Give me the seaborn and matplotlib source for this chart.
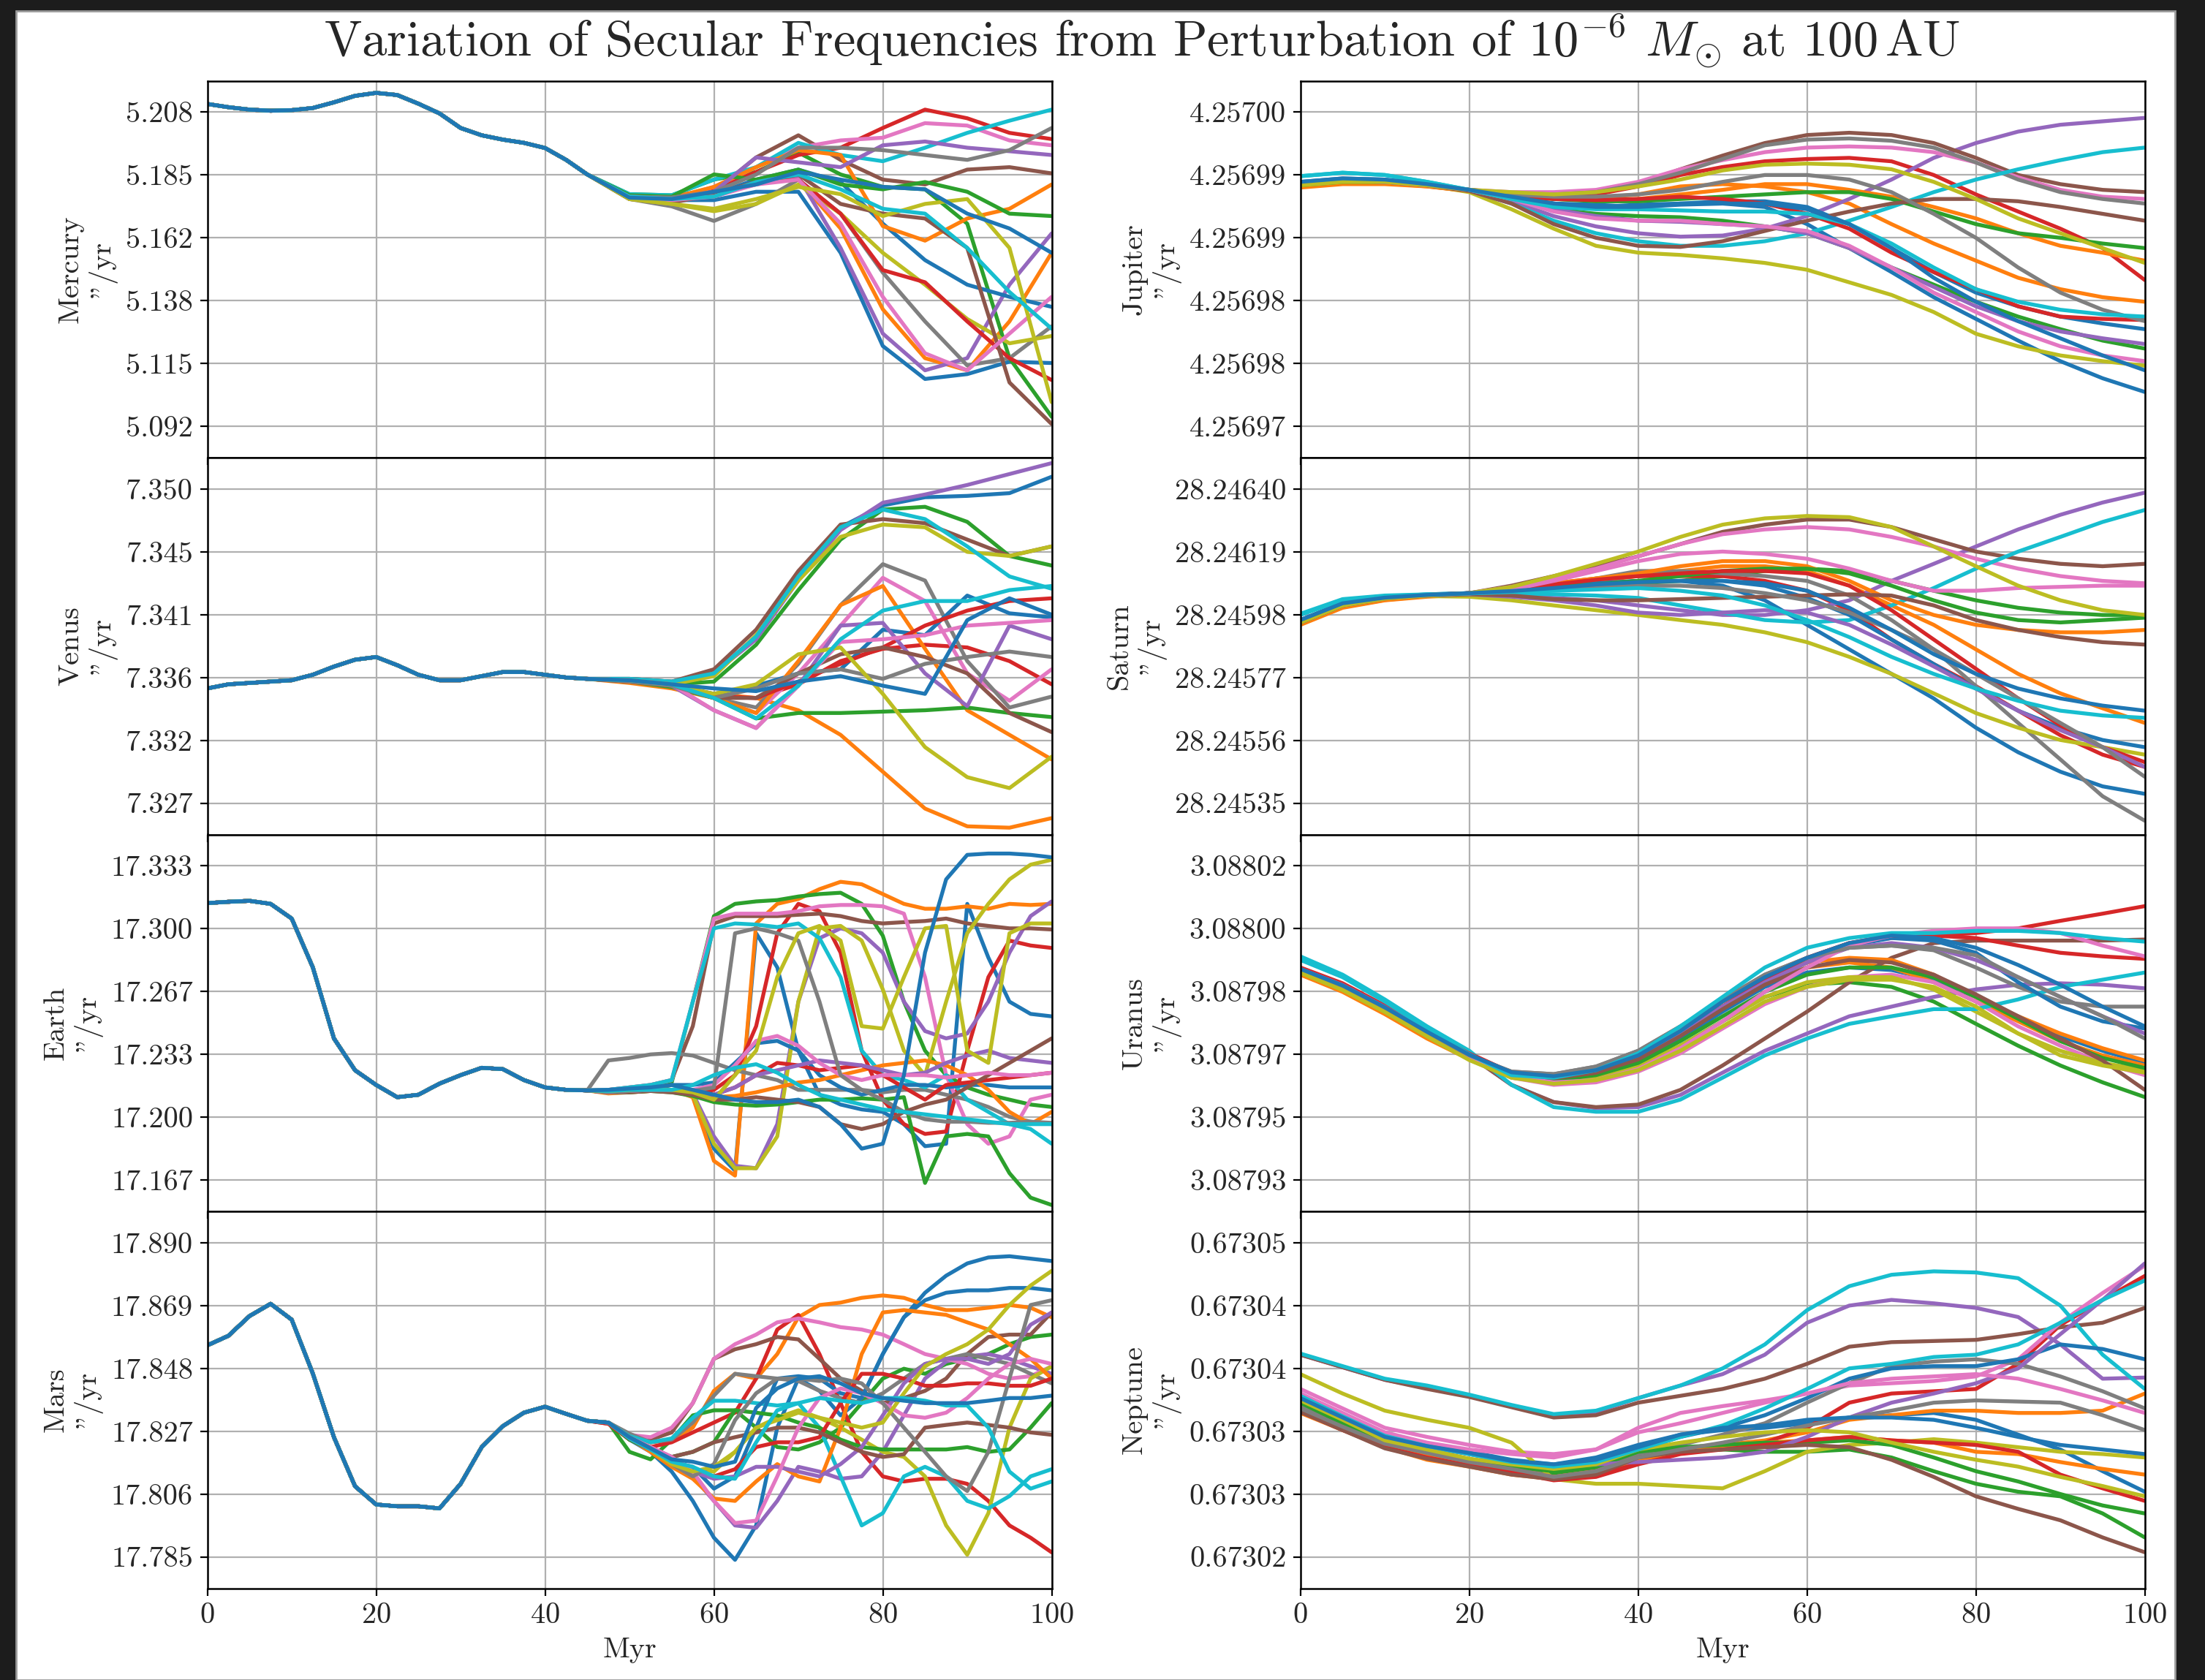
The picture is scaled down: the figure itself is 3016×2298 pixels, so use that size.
import numpy as np
import pandas as pd
import seaborn as sns
import matplotlib.pyplot as plt
from matplotlib.patches import Rectangle

sns.set_style("white")
plt.rcParams['font.family'] = ['cmr10', 'DejaVu Serif']
plt.rcParams['mathtext.fontset'] = 'cm'
plt.rcParams['axes.formatter.use_mathtext'] = True
plt.rcParams['axes.unicode_minus'] = False

TITLE = r"Variation of Secular Frequencies from Perturbation of $10^{-6}$ $M_{\odot}$ at $100\,\mathrm{AU}$"
planets_left = ["Mercury", "Venus", "Earth", "Mars"]
planets_right = ["Jupiter", "Saturn", "Uranus", "Neptune"]
unit_label = '"/yr'

# ---------------- time samples (Myr) ----------------
trunk_x = [0, 2.5, 5, 7.5, 10, 12.5, 15, 17.5, 20, 22.5, 25, 27.5, 30, 32.5, 35, 37.5, 40, 42.5, 45]
tail5_x = [50, 55, 60, 65, 70, 75, 80, 85, 90, 95, 100]
tail25_x = [47.5, 50, 52.5, 55, 57.5, 60, 62.5, 65, 67.5, 70, 72.5, 75, 77.5, 80, 82.5, 85, 87.5, 90, 92.5, 95, 97.5, 100]
full_x = [0, 5, 10, 15, 20, 25, 30, 35, 40, 45, 50, 55, 60, 65, 70, 75, 80, 85, 90, 95, 100]

# ---------------- Mercury ("/yr) ----------------
mercury_ticks = [5.092, 5.11525, 5.1385, 5.16175, 5.185, 5.20825]
mercury_labels = ["5.092", "5.115", "5.138", "5.162", "5.185", "5.208"]
mercury_trunk = [5.2113, 5.2101, 5.2092, 5.2088, 5.2090, 5.2098, 5.2119, 5.2143, 5.2154, 5.2146,
                 5.2114, 5.2078, 5.2024, 5.1997, 5.1981, 5.1969, 5.1950, 5.1906, 5.1852]
mercury_tails = [
    [5.1761, 5.1757, 5.1757, 5.1788, 5.1788, 5.1562, 5.1217, 5.1095, 5.1113, 5.1159, 5.1154],
    [5.1770, 5.1766, 5.1770, 5.1824, 5.1833, 5.1652, 5.1353, 5.1172, 5.1127, 5.1308, 5.1562],
    [5.1779, 5.1775, 5.1833, 5.1861, 5.1933, 5.1852, 5.1806, 5.1797, 5.1670, 5.1172, 5.0955],
    [5.1775, 5.1770, 5.1797, 5.1861, 5.1924, 5.1951, 5.2024, 5.2092, 5.2060, 5.2006, 5.1983],
    [5.1770, 5.1766, 5.1779, 5.1815, 5.1843, 5.1580, 5.1263, 5.1127, 5.1172, 5.1444, 5.1634],
    [5.1766, 5.1752, 5.1788, 5.1915, 5.1997, 5.1906, 5.1833, 5.1815, 5.1870, 5.1879, 5.1856],
    [5.1770, 5.1761, 5.1806, 5.1879, 5.1951, 5.1978, 5.1988, 5.2042, 5.2033, 5.1978, 5.1960],
    [5.1761, 5.1734, 5.1680, 5.1743, 5.1833, 5.1707, 5.1489, 5.1308, 5.1145, 5.1172, 5.1290],
    [5.1761, 5.1743, 5.1716, 5.1743, 5.1815, 5.1707, 5.1562, 5.1444, 5.1317, 5.1227, 5.1254],
    [5.1779, 5.1775, 5.1833, 5.1879, 5.1969, 5.1924, 5.1901, 5.1951, 5.2006, 5.2051, 5.2092],
    [5.1766, 5.1761, 5.1779, 5.1833, 5.1870, 5.1824, 5.1670, 5.1535, 5.1444, 5.1399, 5.1362],
    [5.1770, 5.1766, 5.1806, 5.1879, 5.1942, 5.1924, 5.1661, 5.1607, 5.1689, 5.1725, 5.1815],
    [5.1775, 5.1770, 5.1852, 5.1833, 5.1870, 5.1815, 5.1797, 5.1824, 5.1788, 5.1707, 5.1698],
    [5.1766, 5.1761, 5.1770, 5.1824, 5.1833, 5.1707, 5.1498, 5.1453, 5.1308, 5.1172, 5.1091],
    [5.1770, 5.1766, 5.1788, 5.1915, 5.1897, 5.1879, 5.1960, 5.1974, 5.1951, 5.1938, 5.1924],
    [5.1761, 5.1747, 5.1779, 5.1824, 5.1852, 5.1743, 5.1707, 5.1689, 5.1580, 5.1082, 5.0928],
    [5.1766, 5.1757, 5.1770, 5.1815, 5.1833, 5.1670, 5.1399, 5.1190, 5.1127, 5.1263, 5.1399],
    [5.1770, 5.1766, 5.1788, 5.1852, 5.1951, 5.1951, 5.1942, 5.1924, 5.1906, 5.1942, 5.2024],
    [5.1761, 5.1743, 5.1725, 5.1761, 5.1806, 5.1779, 5.1698, 5.1743, 5.1761, 5.1580, 5.1009],
    [5.1770, 5.1761, 5.1770, 5.1824, 5.1852, 5.1797, 5.1725, 5.1707, 5.1580, 5.1417, 5.1281],
    [5.1766, 5.1761, 5.1788, 5.1815, 5.1861, 5.1833, 5.1806, 5.1797, 5.1707, 5.1652, 5.1562],
]

# ---------------- Venus ("/yr) ----------------
venus_ticks = [7.327, 7.3316, 7.3362, 7.3408, 7.3454, 7.350]
venus_labels = ["7.327", "7.332", "7.336", "7.341", "7.345", "7.350"]
venus_trunk = [7.3354, 7.3357, 7.3358, 7.3359, 7.3360, 7.3364, 7.3370, 7.3375, 7.3377, 7.3371,
               7.3364, 7.3360, 7.3360, 7.3363, 7.3366, 7.3366, 7.3364, 7.3362, 7.3361]
venus_tails = [
    [7.3361, 7.3359, 7.3365, 7.3392, 7.3436, 7.3472, 7.3488, 7.3494, 7.3495, 7.3497, 7.3509],
    [7.3359, 7.3356, 7.3350, 7.3347, 7.3338, 7.3320, 7.3293, 7.3266, 7.3253, 7.3252, 7.3259],
    [7.3360, 7.3357, 7.3359, 7.3386, 7.3426, 7.3463, 7.3485, 7.3487, 7.3476, 7.3451, 7.3444],
    [7.3359, 7.3356, 7.3348, 7.3347, 7.3357, 7.3374, 7.3383, 7.3386, 7.3384, 7.3374, 7.3357],
    [7.3361, 7.3358, 7.3365, 7.3390, 7.3433, 7.3470, 7.3490, 7.3496, 7.3503, 7.3511, 7.3519],
    [7.3361, 7.3359, 7.3368, 7.3397, 7.3440, 7.3474, 7.3478, 7.3475, 7.3463, 7.3451, 7.3458],
    [7.3360, 7.3356, 7.3347, 7.3336, 7.3365, 7.3400, 7.3435, 7.3418, 7.3365, 7.3345, 7.3368],
    [7.3359, 7.3356, 7.3347, 7.3340, 7.3372, 7.3415, 7.3445, 7.3433, 7.3374, 7.3340, 7.3348],
    [7.3360, 7.3357, 7.3363, 7.3393, 7.3433, 7.3465, 7.3474, 7.3472, 7.3454, 7.3451, 7.3458],
    [7.3361, 7.3359, 7.3365, 7.3392, 7.3436, 7.3472, 7.3485, 7.3478, 7.3458, 7.3436, 7.3427],
    [7.3359, 7.3356, 7.3350, 7.3356, 7.3365, 7.3368, 7.3397, 7.3393, 7.3422, 7.3409, 7.3406],
    [7.3358, 7.3354, 7.3347, 7.3336, 7.3374, 7.3415, 7.3429, 7.3383, 7.3338, 7.3320, 7.3302],
    [7.3359, 7.3355, 7.3347, 7.3332, 7.3336, 7.3336, 7.3337, 7.3338, 7.3340, 7.3336, 7.3333],
    [7.3359, 7.3356, 7.3348, 7.3347, 7.3359, 7.3372, 7.3384, 7.3400, 7.3411, 7.3418, 7.3420],
    [7.3360, 7.3356, 7.3338, 7.3325, 7.3356, 7.3400, 7.3402, 7.3365, 7.3341, 7.3400, 7.3390],
    [7.3360, 7.3357, 7.3347, 7.3347, 7.3365, 7.3379, 7.3384, 7.3377, 7.3365, 7.3336, 7.3322],
    [7.3360, 7.3357, 7.3338, 7.3325, 7.3356, 7.3388, 7.3390, 7.3393, 7.3400, 7.3402, 7.3404],
    [7.3359, 7.3356, 7.3347, 7.3354, 7.3365, 7.3368, 7.3361, 7.3372, 7.3377, 7.3381, 7.3377],
    [7.3360, 7.3357, 7.3350, 7.3357, 7.3379, 7.3384, 7.3350, 7.3311, 7.3289, 7.3281, 7.3304],
    [7.3360, 7.3357, 7.3347, 7.3332, 7.3356, 7.3390, 7.3411, 7.3418, 7.3418, 7.3426, 7.3429],
    [7.3360, 7.3357, 7.3354, 7.3352, 7.3359, 7.3363, 7.3356, 7.3350, 7.3404, 7.3420, 7.3408],
]

# ---------------- Earth ("/yr) ----------------
earth_ticks = [17.16667, 17.2, 17.23333, 17.26667, 17.3, 17.33333]
earth_labels = ["17.167", "17.200", "17.233", "17.267", "17.300", "17.333"]
earth_trunk = [17.3136, 17.3143, 17.3148, 17.3132, 17.3054, 17.2795, 17.2418, 17.2249, 17.2171, 17.2106,
               17.2119, 17.2178, 17.2223, 17.2262, 17.2255, 17.2197, 17.2158, 17.2145, 17.2142]
earth_tails = [
    [17.2139, 17.2145, 17.2152, 17.2145, 17.2119, 17.1833, 17.1716, 17.2976, 17.2795, 17.2353, 17.2119,
     17.2067, 17.2041, 17.2028, 17.1963, 17.1846, 17.1859, 17.3132, 17.2847, 17.2613, 17.2548, 17.2535],
    [17.2139, 17.2145, 17.2152, 17.2145, 17.2106, 17.1768, 17.1690, 17.3028, 17.3132, 17.3158, 17.3210,
     17.3249, 17.3236, 17.3184, 17.3132, 17.3106, 17.3106, 17.3119, 17.3106, 17.3132, 17.3126, 17.3132],
    [17.2145, 17.2152, 17.2158, 17.2184, 17.2613, 17.3067, 17.3132, 17.3145, 17.3152, 17.3171, 17.3184,
     17.3191, 17.3132, 17.2963, 17.2613, 17.2353, 17.2223, 17.2158, 17.2119, 17.2093, 17.2067, 17.2054],
    [17.2132, 17.2139, 17.2145, 17.2139, 17.2119, 17.2145, 17.2223, 17.2483, 17.2976, 17.3132, 17.3093,
     17.2873, 17.2353, 17.2093, 17.1963, 17.1911, 17.1924, 17.2353, 17.2743, 17.2937, 17.2911, 17.2898],
    [17.2139, 17.2145, 17.2152, 17.2145, 17.2126, 17.1898, 17.1742, 17.1729, 17.1963, 17.2613, 17.2950,
     17.3002, 17.2976, 17.2873, 17.2613, 17.2457, 17.2418, 17.2444, 17.2613, 17.2873, 17.3067, 17.3145],
    [17.2145, 17.2158, 17.2171, 17.2197, 17.2483, 17.3028, 17.3067, 17.3067, 17.3067, 17.3074, 17.3080,
     17.3067, 17.3041, 17.3028, 17.3035, 17.3041, 17.3054, 17.3028, 17.3015, 17.3002, 17.3002, 17.2996],
    [17.2145, 17.2158, 17.2171, 17.2197, 17.2613, 17.3054, 17.3080, 17.3080, 17.3080, 17.3093, 17.3119,
     17.3126, 17.3126, 17.3119, 17.3080, 17.2743, 17.2223, 17.1963, 17.1859, 17.1898, 17.2093, 17.2119],
    [17.2301, 17.2314, 17.2333, 17.2340, 17.2327, 17.2288, 17.2249, 17.2223, 17.2197, 17.2145, 17.2145,
     17.2145, 17.2145, 17.2132, 17.2145, 17.2145, 17.2119, 17.2093, 17.2054, 17.2002, 17.1976, 17.1963],
    [17.2132, 17.2139, 17.2145, 17.2139, 17.2119, 17.1859, 17.1729, 17.1729, 17.1898, 17.2613, 17.3002,
     17.3015, 17.2937, 17.2678, 17.2353, 17.2223, 17.2613, 17.2976, 17.3132, 17.3262, 17.3340, 17.3366],
    [17.2145, 17.2158, 17.2171, 17.2197, 17.2613, 17.3002, 17.3028, 17.3022, 17.3009, 17.3028, 17.2950,
     17.2743, 17.2353, 17.2223, 17.2197, 17.2158, 17.2223, 17.2093, 17.2028, 17.1963, 17.1937, 17.1859],
    [17.2139, 17.2145, 17.2145, 17.2171, 17.2171, 17.2184, 17.2288, 17.2392, 17.2405, 17.2353, 17.2223,
     17.2158, 17.2119, 17.2145, 17.2171, 17.2171, 17.2158, 17.2171, 17.2171, 17.2158, 17.2158, 17.2158],
    [17.2126, 17.2132, 17.2139, 17.2139, 17.2126, 17.2106, 17.2113, 17.2132, 17.2158, 17.2184, 17.2197,
     17.2223, 17.2249, 17.2275, 17.2288, 17.2301, 17.2275, 17.2223, 17.2145, 17.2028, 17.1963, 17.2028],
    [17.2132, 17.2132, 17.2139, 17.2132, 17.2113, 17.2080, 17.2067, 17.2061, 17.2067, 17.2080, 17.2093,
     17.2093, 17.2100, 17.2093, 17.2106, 17.1651, 17.1898, 17.1911, 17.1898, 17.1703, 17.1573, 17.1534],
    [17.2132, 17.2139, 17.2145, 17.2145, 17.2145, 17.2119, 17.2158, 17.2223, 17.2288, 17.2275, 17.2249,
     17.2262, 17.2275, 17.2223, 17.2158, 17.2093, 17.2171, 17.2184, 17.2197, 17.2210, 17.2223, 17.2236],
    [17.2139, 17.2145, 17.2145, 17.2145, 17.2119, 17.2119, 17.2158, 17.2223, 17.2249, 17.2275, 17.2301,
     17.2288, 17.2275, 17.2249, 17.2223, 17.2236, 17.2288, 17.2327, 17.2353, 17.2314, 17.2301, 17.2288],
    [17.2132, 17.2132, 17.2139, 17.2132, 17.2119, 17.2093, 17.2093, 17.2106, 17.2093, 17.2080, 17.2054,
     17.1963, 17.1937, 17.1963, 17.2028, 17.2067, 17.2093, 17.2158, 17.2223, 17.2288, 17.2353, 17.2418],
    [17.2132, 17.2139, 17.2145, 17.2145, 17.2145, 17.2171, 17.2275, 17.2405, 17.2431, 17.2379, 17.2288,
     17.2223, 17.2197, 17.2223, 17.2223, 17.2223, 17.2210, 17.2223, 17.2236, 17.2223, 17.2223, 17.2236],
    [17.2132, 17.2139, 17.2145, 17.2145, 17.2139, 17.2158, 17.2976, 17.3002, 17.2976, 17.2937, 17.2613,
     17.2223, 17.2145, 17.2093, 17.2028, 17.1989, 17.1976, 17.1976, 17.1970, 17.1970, 17.1976, 17.1970],
    [17.2139, 17.2145, 17.2152, 17.2145, 17.2132, 17.2093, 17.2223, 17.2353, 17.2743, 17.2976, 17.3015,
     17.2937, 17.2483, 17.2470, 17.2743, 17.3002, 17.3015, 17.2353, 17.2288, 17.2976, 17.3028, 17.3028],
    [17.2139, 17.2145, 17.2145, 17.2145, 17.2171, 17.2223, 17.2262, 17.2281, 17.2236, 17.2171, 17.2119,
     17.2093, 17.2067, 17.2041, 17.2028, 17.2015, 17.2002, 17.1989, 17.1976, 17.1963, 17.1963, 17.1963],
    [17.2145, 17.2152, 17.2158, 17.2171, 17.2145, 17.2119, 17.2093, 17.2080, 17.2080, 17.2093, 17.2054,
     17.1963, 17.1833, 17.1859, 17.2223, 17.2873, 17.3262, 17.3392, 17.3399, 17.3399, 17.3392, 17.3379],
]

# ---------------- Mars ("/yr) ----------------
mars_ticks = [17.785, 17.806, 17.827, 17.848, 17.869, 17.890]
mars_labels = ["17.785", "17.806", "17.827", "17.848", "17.869", "17.890"]
mars_trunk = [17.8557, 17.8589, 17.8655, 17.8696, 17.8643, 17.8463, 17.8250, 17.8086, 17.8025, 17.8019,
              17.8019, 17.8012, 17.8094, 17.8217, 17.8287, 17.8332, 17.8352, 17.8328, 17.8305]
mars_tails = [
    [17.8299, 17.8242, 17.8201, 17.8135, 17.8037, 17.7914, 17.7840, 17.7955, 17.8282, 17.8446, 17.8405,
     17.8323, 17.8381, 17.8528, 17.8651, 17.8733, 17.8790, 17.8831, 17.8851, 17.8855, 17.8847, 17.8839],
    [17.8299, 17.8258, 17.8233, 17.8242, 17.8282, 17.8405, 17.8462, 17.8446, 17.8528, 17.8651, 17.8692,
     17.8700, 17.8716, 17.8724, 17.8716, 17.8692, 17.8675, 17.8675, 17.8683, 17.8692, 17.8683, 17.8651],
    [17.8299, 17.8201, 17.8176, 17.8242, 17.8323, 17.8340, 17.8340, 17.8282, 17.8217, 17.8209, 17.8233,
     17.8282, 17.8364, 17.8446, 17.8479, 17.8462, 17.8495, 17.8512, 17.8528, 17.8561, 17.8585, 17.8593],
    [17.8295, 17.8242, 17.8217, 17.8233, 17.8266, 17.8299, 17.8332, 17.8446, 17.8610, 17.8659, 17.8528,
     17.8364, 17.8201, 17.8119, 17.8102, 17.8111, 17.8111, 17.8094, 17.8037, 17.7955, 17.7914, 17.7865],
    [17.8299, 17.8246, 17.8217, 17.8184, 17.8119, 17.8037, 17.7955, 17.7947, 17.8037, 17.8151, 17.8135,
     17.8111, 17.8119, 17.8201, 17.8323, 17.8446, 17.8503, 17.8520, 17.8528, 17.8512, 17.8487, 17.8462],
    [17.8299, 17.8258, 17.8242, 17.8266, 17.8364, 17.8512, 17.8544, 17.8561, 17.8585, 17.8577, 17.8512,
     17.8446, 17.8405, 17.8364, 17.8381, 17.8405, 17.8446, 17.8528, 17.8585, 17.8593, 17.8593, 17.8667],
    [17.8299, 17.8258, 17.8250, 17.8282, 17.8364, 17.8512, 17.8561, 17.8593, 17.8634, 17.8647, 17.8634,
     17.8618, 17.8610, 17.8593, 17.8561, 17.8528, 17.8512, 17.8495, 17.8462, 17.8446, 17.8454, 17.8487],
    [17.8299, 17.8262, 17.8233, 17.8242, 17.8299, 17.8389, 17.8462, 17.8454, 17.8446, 17.8438, 17.8405,
     17.8381, 17.8364, 17.8397, 17.8446, 17.8495, 17.8512, 17.8528, 17.8512, 17.8495, 17.8462, 17.8430],
    [17.8299, 17.8250, 17.8217, 17.8168, 17.8143, 17.8135, 17.8201, 17.8282, 17.8315, 17.8340, 17.8315,
     17.8282, 17.8242, 17.8201, 17.8184, 17.8119, 17.7955, 17.7857, 17.7996, 17.8282, 17.8446, 17.8487],
    [17.8299, 17.8254, 17.8233, 17.8246, 17.8315, 17.8372, 17.8372, 17.8364, 17.8356, 17.8364, 17.8282,
     17.8119, 17.7955, 17.7996, 17.8119, 17.8151, 17.8119, 17.8037, 17.8012, 17.8053, 17.8119, 17.8143],
    [17.8299, 17.8250, 17.8209, 17.8168, 17.8151, 17.8078, 17.8119, 17.8282, 17.8446, 17.8454, 17.8446,
     17.8397, 17.8381, 17.8528, 17.8651, 17.8708, 17.8733, 17.8741, 17.8741, 17.8749, 17.8749, 17.8741],
    [17.8299, 17.8246, 17.8201, 17.8151, 17.8111, 17.8045, 17.8037, 17.8102, 17.8160, 17.8119, 17.8102,
     17.8282, 17.8528, 17.8667, 17.8675, 17.8667, 17.8659, 17.8634, 17.8610, 17.8561, 17.8512, 17.8446],
    [17.8299, 17.8242, 17.8209, 17.8184, 17.8201, 17.8233, 17.8340, 17.8332, 17.8323, 17.8299, 17.8282,
     17.8242, 17.8217, 17.8209, 17.8209, 17.8209, 17.8209, 17.8217, 17.8201, 17.8209, 17.8282, 17.8364],
    [17.8295, 17.8246, 17.8209, 17.8168, 17.8135, 17.8119, 17.8143, 17.8217, 17.8233, 17.8233, 17.8250,
     17.8364, 17.8462, 17.8462, 17.8446, 17.8422, 17.8422, 17.8430, 17.8430, 17.8422, 17.8422, 17.8446],
    [17.8299, 17.8246, 17.8209, 17.8168, 17.8135, 17.8111, 17.8119, 17.8151, 17.8151, 17.8135, 17.8119,
     17.8160, 17.8217, 17.8323, 17.8430, 17.8495, 17.8512, 17.8512, 17.8495, 17.8528, 17.8626, 17.8667],
    [17.8299, 17.8246, 17.8209, 17.8184, 17.8201, 17.8233, 17.8250, 17.8266, 17.8282, 17.8282, 17.8266,
     17.8233, 17.8201, 17.8184, 17.8193, 17.8282, 17.8291, 17.8299, 17.8291, 17.8282, 17.8266, 17.8258],
    [17.8299, 17.8250, 17.8217, 17.8184, 17.8135, 17.8037, 17.7963, 17.7971, 17.8119, 17.8282, 17.8381,
     17.8413, 17.8397, 17.8364, 17.8323, 17.8315, 17.8332, 17.8381, 17.8446, 17.8495, 17.8512, 17.8495],
    [17.8299, 17.8250, 17.8213, 17.8160, 17.8119, 17.8160, 17.8307, 17.8397, 17.8446, 17.8446, 17.8438,
     17.8446, 17.8430, 17.8364, 17.8282, 17.8201, 17.8119, 17.8070, 17.8201, 17.8446, 17.8692, 17.8708],
    [17.8299, 17.8250, 17.8209, 17.8160, 17.8135, 17.8151, 17.8201, 17.8282, 17.8307, 17.8332, 17.8315,
     17.8299, 17.8282, 17.8299, 17.8397, 17.8487, 17.8528, 17.8561, 17.8610, 17.8692, 17.8757, 17.8806],
    [17.8299, 17.8246, 17.8209, 17.8168, 17.8151, 17.8119, 17.8111, 17.8233, 17.8340, 17.8364, 17.8381,
     17.8372, 17.8364, 17.8381, 17.8381, 17.8372, 17.8356, 17.8356, 17.8282, 17.8135, 17.8078, 17.8102],
    [17.8299, 17.8250, 17.8213, 17.8176, 17.8168, 17.8151, 17.8168, 17.8348, 17.8413, 17.8446, 17.8454,
     17.8430, 17.8397, 17.8381, 17.8372, 17.8364, 17.8364, 17.8364, 17.8372, 17.8381, 17.8381, 17.8389],
]

# ---------------- Jupiter: offsets in 1e-6 "/yr from 4.25697 ----------------
jupiter_ref = 4.25697
jupiter_tick_off = [2.5, 8.0, 13.5, 19.0, 24.5, 30.0]
jupiter_labels = ["4.25697", "4.25698", "4.25698", "4.25699", "4.25699", "4.25700"]
jupiter_off = [
    [23.9, 24.2, 24.1, 23.7, 23.2, 22.6, 22.0, 21.7, 21.9, 22.0, 22.0, 21.7, 20.2, 18.1, 16.0, 13.8, 11.9, 10.0, 8.2, 6.7, 5.5],
    [23.4, 23.7, 23.7, 23.5, 23.1, 22.8, 22.6, 22.5, 22.8, 23.5, 23.7, 23.5, 23.0, 22.0, 20.2, 18.5, 17.0, 15.5, 14.5, 13.8, 13.4],
    [23.6, 23.9, 23.9, 23.6, 23.2, 22.4, 21.5, 21.1, 20.9, 20.8, 20.5, 20.0, 19.4, 18.1, 16.4, 14.9, 13.4, 12.1, 11.0, 10.0, 9.3],
    [23.8, 24.1, 24.0, 23.6, 23.2, 22.8, 22.6, 22.8, 23.5, 24.5, 25.2, 25.7, 25.9, 26.0, 25.7, 24.5, 22.8, 21.3, 19.8, 18.1, 15.3],
    [23.7, 24.0, 23.9, 23.6, 23.2, 22.2, 20.9, 20.0, 19.4, 19.1, 19.2, 19.8, 20.9, 22.4, 24.1, 26.0, 27.3, 28.3, 28.9, 29.2, 29.5],
    [23.7, 24.0, 23.9, 23.6, 23.2, 22.9, 22.8, 23.0, 23.7, 25.0, 26.2, 27.3, 28.0, 28.2, 28.0, 27.3, 26.0, 24.5, 23.7, 23.2, 23.0],
    [23.7, 24.0, 23.9, 23.6, 23.2, 23.0, 23.0, 23.2, 23.9, 25.0, 25.8, 26.5, 26.9, 27.0, 26.9, 26.5, 25.6, 24.3, 23.2, 22.6, 22.4],
    [23.7, 24.0, 23.9, 23.6, 23.2, 22.9, 22.8, 23.0, 23.7, 24.7, 25.9, 27.1, 27.6, 27.7, 27.5, 26.9, 25.6, 24.1, 23.0, 22.4, 22.0],
    [23.6, 23.9, 23.9, 23.6, 23.0, 21.5, 19.8, 18.3, 17.7, 17.5, 17.2, 16.8, 16.2, 15.1, 14.0, 12.5, 10.6, 9.5, 8.7, 8.2, 7.8],
    [24.4, 24.7, 24.5, 23.9, 23.2, 22.0, 20.5, 19.4, 18.7, 18.3, 18.3, 18.7, 19.4, 20.5, 21.7, 23.0, 24.1, 25.0, 25.8, 26.5, 26.9],
    [23.7, 24.0, 23.9, 23.6, 23.2, 22.6, 22.0, 21.9, 21.7, 22.0, 22.2, 22.2, 21.7, 20.2, 18.1, 16.0, 14.2, 13.0, 12.1, 11.5, 11.0],
    [23.5, 23.8, 23.8, 23.5, 23.1, 22.7, 22.4, 22.3, 22.4, 22.8, 23.2, 23.7, 23.7, 23.2, 22.6, 21.7, 20.7, 19.4, 18.3, 17.7, 17.0],
    [23.6, 23.9, 23.9, 23.6, 23.2, 22.8, 22.4, 22.2, 22.2, 22.4, 22.6, 22.8, 23.0, 23.0, 22.4, 21.3, 20.2, 19.4, 19.0, 18.5, 18.1],
    [23.7, 24.0, 23.9, 23.6, 23.2, 22.7, 22.4, 22.3, 22.4, 22.6, 22.4, 22.0, 21.1, 19.8, 17.7, 16.0, 14.5, 13.0, 12.1, 11.9, 11.8],
    [23.7, 24.0, 23.9, 23.6, 23.2, 22.4, 21.5, 20.9, 20.5, 20.4, 20.2, 20.0, 19.4, 18.1, 16.4, 14.7, 13.0, 11.7, 10.8, 10.2, 9.7],
    [23.7, 24.0, 23.9, 23.6, 23.1, 22.0, 20.2, 19.0, 18.3, 18.2, 18.7, 19.6, 20.5, 21.3, 22.0, 22.4, 22.4, 22.2, 21.7, 21.1, 20.5],
    [23.7, 24.0, 23.9, 23.6, 23.2, 22.4, 21.3, 20.7, 20.5, 20.5, 20.2, 20.0, 19.6, 18.3, 16.4, 14.2, 12.5, 10.8, 9.5, 8.7, 8.2],
    [23.7, 24.0, 23.9, 23.6, 23.2, 22.8, 22.6, 22.6, 22.8, 23.2, 23.9, 24.5, 24.5, 24.1, 23.0, 21.1, 19.0, 16.4, 14.2, 12.7, 11.7],
    [23.6, 23.9, 23.9, 23.6, 23.2, 23.0, 22.8, 23.0, 23.5, 24.1, 24.9, 25.4, 25.5, 25.4, 25.0, 23.9, 22.4, 20.7, 19.4, 18.1, 16.8],
    [24.4, 24.7, 24.5, 23.9, 23.2, 22.4, 21.7, 21.5, 21.5, 21.4, 21.3, 21.3, 21.1, 20.2, 18.5, 16.4, 14.5, 13.4, 12.7, 12.3, 12.1],
    [23.9, 24.2, 24.1, 23.7, 23.2, 22.6, 22.0, 21.7, 21.7, 21.9, 22.0, 22.0, 21.5, 20.2, 18.1, 15.5, 13.4, 11.7, 10.2, 8.7, 7.4],
]

# ---------------- Saturn: offsets in 1e-6 "/yr from 28.2450 ----------------
saturn_ref = 28.2450
saturn_tick_off = [350, 560, 770, 980, 1190, 1400]
saturn_labels = ["28.24535", "28.24556", "28.24577", "28.24598", "28.24619", "28.24640"]
saturn_off = [
    [962, 1019, 1040, 1048, 1052, 1060, 1073, 1085, 1093, 1093, 1077, 1028, 946, 864, 782, 700, 602, 520, 455, 406, 381],
    [946, 1003, 1028, 1040, 1048, 1060, 1077, 1093, 1109, 1126, 1142, 1142, 1126, 1077, 1011, 946, 864, 782, 717, 667, 618],
    [954, 1011, 1036, 1046, 1051, 1060, 1069, 1077, 1085, 1093, 1109, 1126, 1134, 1126, 1093, 1060, 1028, 1003, 987, 979, 979],
    [962, 1015, 1037, 1046, 1052, 1069, 1085, 1101, 1109, 1109, 1109, 1093, 1060, 995, 897, 815, 741, 659, 577, 512, 471],
    [958, 1011, 1036, 1044, 1048, 1044, 1036, 1028, 1011, 995, 979, 979, 995, 1028, 1093, 1150, 1208, 1265, 1314, 1355, 1388],
    [954, 1011, 1034, 1044, 1052, 1077, 1109, 1142, 1175, 1216, 1257, 1281, 1298, 1298, 1273, 1232, 1191, 1167, 1150, 1142, 1150],
    [958, 1015, 1036, 1046, 1052, 1073, 1101, 1134, 1175, 1216, 1249, 1265, 1273, 1265, 1240, 1208, 1167, 1134, 1109, 1093, 1085],
    [954, 1011, 1034, 1044, 1052, 1060, 1077, 1101, 1126, 1126, 1118, 1109, 1093, 1044, 962, 864, 741, 618, 496, 373, 291],
    [954, 1011, 1034, 1042, 1040, 1028, 1011, 995, 979, 962, 946, 921, 888, 839, 782, 717, 651, 602, 561, 537, 512],
    [983, 1032, 1044, 1048, 1052, 1052, 1048, 1044, 1036, 1011, 987, 962, 954, 962, 1011, 1069, 1134, 1191, 1240, 1290, 1330],
    [962, 1018, 1037, 1046, 1052, 1060, 1073, 1085, 1093, 1093, 1093, 1077, 1036, 979, 897, 815, 733, 659, 602, 561, 537],
    [950, 1005, 1029, 1042, 1051, 1064, 1085, 1101, 1118, 1142, 1159, 1159, 1142, 1093, 1028, 979, 946, 929, 921, 921, 929],
    [954, 1011, 1036, 1046, 1051, 1060, 1073, 1081, 1093, 1109, 1126, 1134, 1134, 1118, 1077, 1028, 987, 962, 954, 962, 970],
    [958, 1015, 1037, 1046, 1052, 1064, 1081, 1097, 1109, 1118, 1126, 1126, 1118, 1077, 995, 897, 799, 700, 610, 537, 487],
    [958, 1011, 1036, 1044, 1048, 1040, 1028, 1011, 987, 979, 987, 995, 987, 946, 880, 807, 733, 659, 594, 537, 471],
    [954, 1011, 1034, 1044, 1048, 1044, 1032, 1028, 1028, 1032, 1036, 1040, 1044, 1048, 1044, 1011, 962, 929, 905, 888, 880],
    [958, 1015, 1036, 1046, 1051, 1064, 1093, 1126, 1159, 1183, 1191, 1183, 1167, 1134, 1093, 1060, 1060, 1069, 1073, 1077, 1077],
    [954, 1011, 1034, 1044, 1051, 1056, 1064, 1073, 1077, 1077, 1069, 1052, 1028, 987, 929, 864, 782, 700, 618, 537, 438],
    [954, 1011, 1034, 1044, 1052, 1073, 1109, 1150, 1191, 1240, 1281, 1302, 1310, 1306, 1273, 1208, 1142, 1077, 1028, 995, 979],
    [979, 1029, 1042, 1047, 1051, 1056, 1060, 1064, 1069, 1060, 1044, 1011, 962, 905, 839, 782, 733, 692, 659, 643, 635],
    [962, 1018, 1037, 1046, 1052, 1059, 1069, 1081, 1089, 1093, 1093, 1085, 1060, 1003, 929, 848, 782, 733, 700, 676, 659],
]

# ---------------- Uranus: offsets in 1e-6 "/yr from 3.0879 ----------------
uranus_ref = 3.0879
uranus_tick_off = [32.0, 49.5, 67.0, 84.5, 102.0, 119.5]
uranus_labels = ["3.08793", "3.08795", "3.08797", "3.08798", "3.08800", "3.08802"]
uranus_off = [
    [90.5, 85.8, 79.6, 72.8, 66.7, 61.9, 60.5, 61.9, 65.3, 71.4, 78.9, 85.8, 89.8, 91.2, 90.5, 87.8, 83.0, 77.6, 72.1, 68.0, 64.6],
    [89.2, 84.4, 78.2, 71.4, 65.6, 61.2, 60.2, 61.9, 66.0, 72.8, 80.3, 87.1, 91.2, 92.6, 91.2, 87.1, 81.7, 76.2, 70.7, 66.7, 63.9],
    [90.2, 85.1, 78.9, 72.1, 66.0, 61.2, 59.5, 60.5, 63.9, 69.4, 76.2, 83.0, 86.4, 87.1, 85.8, 81.7, 75.5, 69.4, 63.9, 59.2, 55.1],
    [91.2, 86.8, 80.6, 73.8, 67.3, 61.9, 60.2, 61.5, 66.0, 72.8, 80.3, 87.8, 93.9, 98.0, 99.4, 100.1, 100.8, 102.1, 104.2, 106.2, 108.3],
    [90.9, 86.4, 80.3, 73.5, 66.7, 58.5, 53.7, 52.0, 52.3, 55.7, 61.9, 68.0, 72.8, 77.6, 80.3, 83.0, 85.1, 86.4, 86.8, 86.4, 85.4],
    [90.9, 86.4, 80.3, 73.5, 66.7, 58.5, 53.7, 52.3, 53.0, 57.1, 63.9, 71.4, 78.9, 87.1, 93.9, 98.0, 98.7, 98.7, 98.7, 98.7, 99.0],
    [90.2, 85.4, 79.3, 72.5, 66.0, 60.5, 58.5, 59.2, 62.2, 67.3, 74.2, 81.0, 85.8, 88.5, 89.2, 87.1, 81.7, 74.8, 69.4, 64.6, 61.2],
    [90.5, 85.8, 79.6, 72.8, 66.7, 62.2, 61.5, 63.6, 68.0, 74.8, 82.3, 89.2, 93.9, 96.7, 97.3, 96.0, 91.2, 85.8, 81.7, 80.3, 80.3],
    [89.8, 85.1, 78.9, 72.1, 65.6, 60.5, 59.2, 60.5, 63.9, 69.4, 76.2, 83.0, 87.1, 88.5, 88.5, 85.1, 78.9, 72.8, 68.0, 64.6, 62.6],
    [94.3, 89.2, 82.3, 74.8, 68.0, 58.5, 52.3, 51.0, 51.0, 54.4, 60.5, 66.7, 71.4, 75.5, 77.6, 79.6, 79.6, 82.3, 85.8, 87.8, 89.8],
    [90.7, 86.1, 79.9, 73.1, 66.8, 61.9, 60.5, 62.2, 66.0, 72.1, 79.6, 87.1, 92.6, 97.3, 99.4, 98.7, 95.3, 87.1, 80.3, 76.2, 74.2],
    [89.3, 84.7, 78.6, 71.8, 65.8, 61.2, 60.4, 62.2, 66.7, 73.5, 81.7, 88.5, 92.6, 93.9, 93.3, 89.2, 83.0, 77.6, 72.8, 68.7, 65.3],
    [90.2, 85.1, 78.9, 72.1, 66.0, 61.2, 59.8, 61.2, 64.6, 70.7, 77.6, 84.4, 89.2, 91.2, 91.2, 88.5, 83.0, 76.9, 70.7, 66.0, 63.2],
    [91.1, 86.4, 80.3, 73.5, 67.2, 61.9, 60.4, 61.9, 66.0, 72.8, 80.3, 87.8, 93.9, 98.0, 100.1, 100.1, 99.4, 97.3, 95.3, 94.3, 93.6],
    [90.8, 86.3, 80.2, 73.3, 67.0, 61.5, 60.5, 62.2, 66.3, 72.8, 80.3, 87.1, 92.6, 96.7, 98.0, 96.7, 93.3, 88.5, 83.0, 77.6, 72.8],
    [90.7, 86.0, 79.9, 73.1, 66.7, 61.8, 60.4, 61.9, 65.6, 72.1, 79.6, 86.4, 91.2, 93.3, 92.6, 89.2, 83.7, 77.6, 71.4, 65.3, 57.1],
    [90.4, 85.6, 79.5, 72.7, 66.1, 60.9, 59.2, 59.8, 62.9, 68.7, 76.2, 84.4, 91.2, 97.3, 100.1, 101.4, 102.1, 102.1, 100.8, 97.3, 94.3],
    [90.5, 85.8, 79.6, 72.8, 66.7, 62.2, 61.5, 63.6, 68.0, 74.8, 82.3, 89.2, 93.9, 96.7, 97.3, 96.7, 94.6, 88.5, 83.0, 77.6, 71.4],
    [89.7, 84.9, 78.8, 72.0, 65.4, 60.5, 58.8, 59.8, 62.6, 68.0, 74.8, 81.7, 85.8, 87.8, 87.8, 85.8, 80.3, 72.8, 66.7, 63.9, 61.9],
    [93.3, 88.5, 81.7, 74.2, 67.0, 61.2, 60.5, 62.6, 67.3, 74.8, 83.0, 91.2, 96.7, 99.4, 100.8, 100.8, 101.4, 101.4, 100.8, 99.4, 98.4],
    [90.8, 86.2, 80.1, 73.3, 66.9, 62.0, 60.9, 62.6, 66.7, 73.5, 81.7, 88.5, 93.9, 98.0, 100.1, 99.4, 96.7, 91.9, 86.4, 80.3, 74.8],
]

# ---------------- Neptune: offsets in 1e-6 "/yr from 0.67302 ----------------
neptune_ref = 0.67302
neptune_tick_off = [2.0, 7.5, 13.0, 18.5, 24.0, 29.5]
neptune_labels = ["0.67302", "0.67303", "0.67303", "0.67304", "0.67304", "0.67305"]
neptune_off = [
    [16.1, 14.4, 12.7, 11.8, 11.2, 10.5, 10.1, 10.7, 11.8, 12.7, 13.1, 13.3, 13.7, 14.2, 14.4, 14.6, 14.0, 12.7, 11.4, 9.5, 7.7],
    [14.6, 13.1, 11.6, 10.5, 9.9, 9.2, 8.8, 9.5, 11.0, 11.4, 11.8, 12.2, 12.9, 14.0, 14.4, 14.8, 14.8, 14.6, 14.6, 14.8, 16.3],
    [15.7, 13.7, 12.0, 11.2, 10.5, 9.9, 9.2, 9.7, 11.0, 11.2, 11.4, 11.2, 11.2, 11.4, 10.7, 9.5, 8.4, 7.7, 7.3, 5.8, 3.7],
    [14.8, 13.2, 11.7, 10.7, 10.1, 9.5, 8.8, 9.2, 10.3, 11.2, 11.6, 12.0, 13.3, 15.5, 16.3, 16.5, 16.7, 18.9, 22.3, 24.5, 26.6],
    [19.7, 18.6, 17.5, 16.8, 16.1, 15.2, 14.4, 14.7, 15.9, 17.0, 18.0, 19.7, 22.5, 24.0, 24.5, 24.2, 23.8, 23.0, 20.6, 17.6, 17.7],
    [19.7, 18.6, 17.5, 16.7, 16.0, 15.1, 14.2, 14.4, 15.5, 16.1, 16.7, 17.6, 18.9, 20.4, 20.8, 20.9, 21.0, 21.5, 22.1, 22.5, 23.8],
    [16.7, 15.0, 13.3, 12.5, 11.8, 11.2, 11.0, 11.4, 12.9, 13.7, 14.6, 15.5, 16.3, 17.0, 17.2, 17.4, 17.8, 19.3, 22.5, 25.1, 27.5],
    [15.2, 13.6, 12.1, 11.2, 10.5, 9.9, 9.0, 9.5, 11.0, 11.8, 12.7, 13.7, 15.5, 17.2, 18.7, 19.1, 19.3, 18.9, 17.8, 16.5, 15.0],
    [18.0, 16.3, 14.8, 14.0, 13.3, 12.0, 8.8, 8.4, 8.4, 8.2, 8.0, 9.5, 11.2, 11.8, 12.0, 12.3, 12.0, 11.6, 11.2, 11.0, 10.7],
    [19.8, 18.7, 17.6, 17.0, 16.2, 15.3, 14.5, 14.8, 15.9, 17.0, 18.5, 20.6, 23.6, 25.7, 26.7, 27.0, 26.9, 26.4, 24.0, 19.7, 16.7],
    [15.9, 14.2, 12.5, 11.6, 11.0, 10.3, 9.9, 10.3, 11.4, 12.5, 13.3, 14.4, 15.9, 17.6, 18.5, 18.7, 18.7, 19.3, 20.6, 20.2, 19.3],
    [14.8, 13.3, 11.8, 11.0, 10.3, 9.7, 9.0, 9.5, 10.5, 11.2, 11.6, 12.0, 12.2, 12.5, 12.2, 12.0, 11.2, 11.0, 10.3, 9.7, 9.2],
    [15.5, 13.7, 12.0, 11.2, 10.5, 9.9, 9.5, 9.9, 11.2, 11.6, 11.8, 12.0, 12.0, 12.2, 11.8, 10.7, 9.5, 8.6, 7.5, 6.5, 5.8],
    [14.7, 13.1, 11.6, 10.7, 10.0, 9.4, 8.7, 9.0, 10.1, 11.0, 11.4, 11.8, 12.2, 12.5, 12.2, 12.0, 11.8, 11.2, 9.2, 8.0, 6.9],
    [16.3, 14.4, 12.5, 11.7, 11.0, 10.3, 9.9, 10.1, 10.3, 10.5, 10.7, 11.2, 12.5, 14.2, 15.5, 16.3, 17.2, 18.5, 21.5, 24.5, 27.7],
    [14.7, 13.1, 11.5, 10.6, 9.9, 9.2, 8.8, 9.2, 10.7, 11.2, 11.4, 11.6, 11.8, 11.6, 10.5, 9.0, 7.3, 6.2, 5.2, 3.7, 2.4],
    [16.3, 14.6, 12.9, 12.0, 11.4, 11.0, 10.7, 11.4, 13.3, 14.6, 15.2, 15.7, 16.3, 17.2, 17.6, 17.8, 18.0, 17.6, 16.7, 15.7, 14.6],
    [15.0, 13.4, 11.9, 11.1, 10.3, 9.7, 9.0, 9.5, 10.7, 11.4, 12.0, 12.7, 13.5, 14.2, 14.8, 15.5, 15.7, 15.6, 15.5, 14.4, 13.1],
    [15.7, 14.0, 12.2, 11.4, 10.6, 10.1, 9.7, 10.1, 11.4, 12.0, 12.5, 12.9, 13.1, 12.9, 12.0, 11.2, 10.5, 9.9, 9.0, 8.2, 7.3],
    [16.1, 14.3, 12.6, 11.7, 11.0, 10.3, 9.9, 10.3, 11.4, 12.5, 13.5, 15.0, 16.7, 18.5, 18.9, 19.5, 19.7, 20.6, 22.5, 24.5, 26.2],
    [15.9, 14.2, 12.5, 11.7, 11.1, 10.4, 10.1, 10.5, 11.6, 12.7, 13.3, 13.5, 14.0, 14.2, 14.2, 14.0, 13.3, 12.5, 11.8, 11.4, 11.0],
]

# ---------------- assemble ----------------
MICRO = 1e-6
palette10 = sns.color_palette("tab10", 10)


def long_frame(x_list, runs):
    rows = []
    for i, ys in enumerate(runs):
        for xv, yv in zip(x_list, ys):
            rows.append((xv, yv, i))
    return pd.DataFrame(rows, columns=["Myr", "freq", "run"])


panels = {
    "Mercury": (trunk_x + tail5_x, [mercury_trunk + t for t in mercury_tails], mercury_ticks, mercury_labels),
    "Venus": (trunk_x + tail5_x, [venus_trunk + t for t in venus_tails], venus_ticks, venus_labels),
    "Earth": (trunk_x + tail25_x, [earth_trunk + t for t in earth_tails], earth_ticks, earth_labels),
    "Mars": (trunk_x + tail25_x, [mars_trunk + t for t in mars_tails], mars_ticks, mars_labels),
    "Jupiter": (full_x, [[jupiter_ref + v * MICRO for v in r] for r in jupiter_off],
                [jupiter_ref + v * MICRO for v in jupiter_tick_off], jupiter_labels),
    "Saturn": (full_x, [[saturn_ref + v * MICRO for v in r] for r in saturn_off],
               [saturn_ref + v * MICRO for v in saturn_tick_off], saturn_labels),
    "Uranus": (full_x, [[uranus_ref + v * MICRO for v in r] for r in uranus_off],
               [uranus_ref + v * MICRO for v in uranus_tick_off], uranus_labels),
    "Neptune": (full_x, [[neptune_ref + v * MICRO for v in r] for r in neptune_off],
                [neptune_ref + v * MICRO for v in neptune_tick_off], neptune_labels),
}

W, H = 3016, 2298
fig = plt.figure(figsize=(W / 200, H / 200), dpi=200)
fig.patch.set_facecolor("#1c1c1c")
fig.add_artist(Rectangle((22 / W, 0), (2975 - 22) / W, (H - 15) / H, transform=fig.transFigure,
                         facecolor="white", edgecolor="#9a9a9a", lw=1.0, zorder=-10))

col_x = [283.5 / W, 1778.7 / W]
ax_w = 1155 / W
row_h = 515.5 / H
top = 1 - 110.5 / H

for col, names in enumerate([planets_left, planets_right]):
    for row, name in enumerate(names):
        ax = fig.add_axes([col_x[col], top - (row + 1) * row_h, ax_w, row_h])
        x_list, runs, ticks, labels = panels[name]
        df = long_frame(x_list, runs)
        pal = [palette10[i % 10] for i in range(len(runs))]
        sns.lineplot(data=df, x="Myr", y="freq", hue="run", palette=pal, estimator=None,
                     legend=False, lw=1.9, sort=False, ax=ax)
        step = ticks[1] - ticks[0]
        ax.set_ylim(ticks[0] - step / 2, ticks[-1] + step / 2)
        ax.set_yticks(ticks)
        ax.set_yticklabels(labels)
        ax.set_xlim(0, 100)
        ax.set_xticks([0, 20, 40, 60, 80, 100])
        ax.grid(True, color="#b0b0b0", lw=0.8)
        ax.tick_params(axis="both", direction="out", length=3.5, width=0.8, labelsize=14.5,
                       left=True, bottom=True, color="black")
        for sp in ax.spines.values():
            sp.set_color("black")
            sp.set_linewidth(0.9)
        ax.set_ylabel(name + "\n" + unit_label, fontsize=14.5, multialignment="center")
        if row < 3:
            ax.set_xticklabels([])
            ax.set_xlabel("")
        else:
            ax.set_xlabel("Myr", fontsize=14.5)

fig.text(0.518, 0.9756, TITLE, ha="center", va="center", fontsize=24.7)

fig.savefig("out.png", dpi=200, facecolor=fig.get_facecolor())
